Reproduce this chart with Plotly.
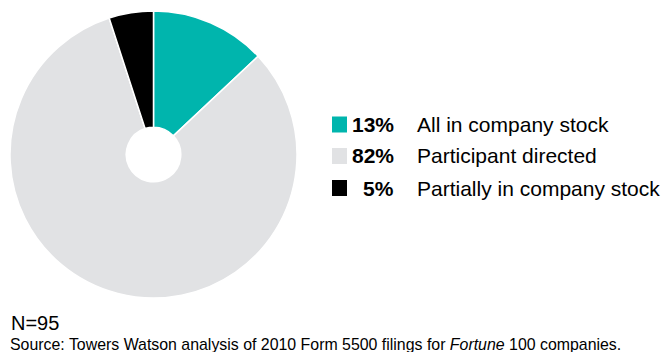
import plotly.graph_objects as go

labels = ["All in company stock", "Participant directed", "Partially in company stock"]
values = [13, 82, 5]
pct_text = ["13%", "82%", "5%"]
colors = ["#00B5AD", "#E1E2E4", "#000000"]

W, H = 662, 352


def px(x):
    return x / W


def py(y):
    return 1 - y / H


fig = go.Figure()
fig.add_trace(go.Pie(
    labels=labels, values=values, sort=False, direction="clockwise", rotation=0,
    hole=0.19, textinfo="none", hoverinfo="label+percent",
    marker=dict(colors=colors, line=dict(color="white", width=1.5)),
    domain=dict(x=[px(10), px(297)], y=[py(298), py(11)]),
    showlegend=False,
))

font = "Liberation Sans, Arial, sans-serif"
row_y = [124.5, 156, 188]
for i in range(3):
    yc = row_y[i]
    fig.add_shape(type="rect", xref="paper", yref="paper",
                  x0=px(332), x1=px(347), y0=py(yc + 8), y1=py(yc - 8),
                  fillcolor=colors[i], line=dict(width=0))
    fig.add_annotation(xref="paper", yref="paper", x=px(396), y=py(yc), xanchor="right", yanchor="middle",
                       text="<b>" + pct_text[i] + "</b>", showarrow=False,
                       font=dict(family=font, size=21, color="#000"))
    fig.add_annotation(xref="paper", yref="paper", x=px(415), y=py(yc), xanchor="left", yanchor="middle",
                       text=labels[i], showarrow=False,
                       font=dict(family=font, size=21, color="#000"))

fig.add_annotation(xref="paper", yref="paper", x=px(9), y=py(323), xanchor="left", yanchor="middle",
                   text="N=95", showarrow=False, font=dict(family=font, size=20, color="#000"))
fig.add_annotation(xref="paper", yref="paper", x=px(8), y=py(344), xanchor="left", yanchor="middle",
                   text="Source: Towers Watson analysis of 2010 Form 5500 filings for <i>Fortune</i> 100 companies.",
                   showarrow=False, font=dict(family=font, size=15.9, color="#000"))

fig.update_layout(width=W, height=H, margin=dict(l=0, r=0, t=0, b=0),
                  paper_bgcolor="white", plot_bgcolor="white")
fig.write_html("out.html", config={"displayModeBar": False},
               post_script="document.body.style.margin='0';document.body.style.overflow='hidden';")
